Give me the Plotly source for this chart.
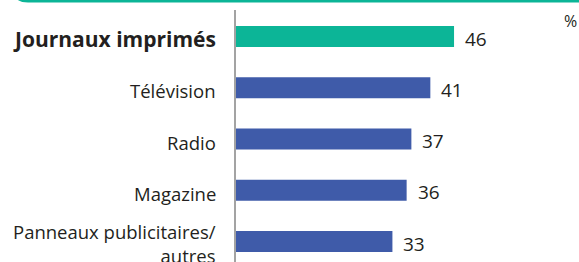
import plotly.graph_objects as go

categories = ["Journaux imprimés", "Télévision", "Radio", "Magazine", "Panneaux publicitaires/<br>autres"]
label_text = ["<b>Journaux imprimés</b>", "Télévision", "Radio", "Magazine",
              "Panneaux publicitaires/<br>autres"]
values = [46, 41, 37, 36, 33]
colors = ["#0cb597", "#3f5ba9", "#3f5ba9", "#3f5ba9", "#3f5ba9"]

W, H = 579, 262
L, R, T, B = 236, 0, 10, 0
PW, PH = W - L - R, H - T - B

def px(xp):
    return (xp - L) / PW

def py(yp):
    return (H - B - yp) / PH

fig = go.Figure()
fig.add_trace(go.Bar(
    x=values, y=categories, orientation="h",
    marker=dict(color=colors, line=dict(width=0)),
    width=0.41, hoverinfo="skip",
))

for i, (c, v, t) in enumerate(zip(categories, values, label_text)):
    fig.add_annotation(x=v, y=c, xref="x", yref="y", text=str(v), showarrow=False,
                       xanchor="left", xshift=9, yshift=-2,
                       font=dict(family="Open Sans", size=19, color="#231f20"))
    fig.add_annotation(x=0, y=c, xref="x", yref="y", text=t, showarrow=False,
                       xanchor="right", align="right", xshift=-18,
                       yshift=-2 if i == 0 else (-3 if i < 4 else -2),
                       font=dict(family="Open Sans", size=21 if i == 0 else 18.5, color="#231f20"))

fig.add_annotation(x=px(562), y=py(21), xref="paper", yref="paper", text="%", showarrow=False,
                   xanchor="left", yanchor="middle",
                   font=dict(family="Open Sans", size=16, color="#231f20"))

# top teal border
path = (f"M {px(14)},{py(-12)} Q {px(14)},{py(1)} {px(28)},{py(1)} L {px(585)},{py(1)}")
fig.add_shape(type="path", path=path, xref="paper", yref="paper",
              line=dict(color="#0cb597", width=3))

fig.update_layout(
    width=W, height=H,
    margin=dict(l=L, r=R, t=T, b=B, pad=0),
    paper_bgcolor="white", plot_bgcolor="white",
    showlegend=False,
    font=dict(family="Open Sans", size=18, color="#231f20"),
    xaxis=dict(range=[0, PW / 4.74], visible=False, showgrid=False, zeroline=False, fixedrange=True),
    yaxis=dict(range=[4.4, -0.517], type="category", showticklabels=False,
               showline=True, linecolor="#a3a3a3", linewidth=2,
               showgrid=False, zeroline=False, ticks=""),
)

fig.write_html("out.html", config={"displayModeBar": False},
               post_script="document.body.style.margin='0';document.body.style.overflow='hidden';")
